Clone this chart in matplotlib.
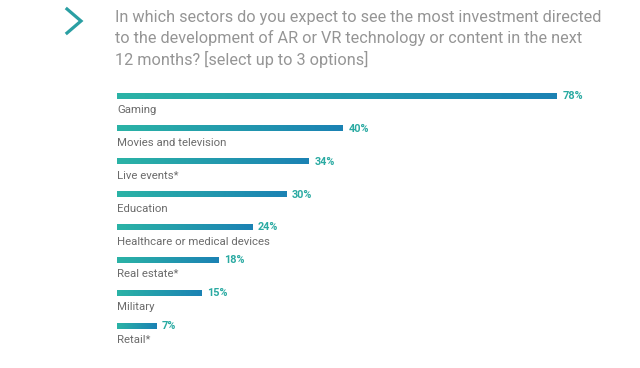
import numpy as np
import matplotlib
matplotlib.use("Agg")
from matplotlib import pyplot as plt
from matplotlib.colors import LinearSegmentedColormap
from matplotlib.lines import Line2D

sectors = ["Gaming", "Movies and television", "Live events*", "Education",
           "Healthcare or medical devices", "Real estate*", "Military", "Retail*"]
values = [78, 40, 34, 30, 24, 18, 15, 7]
title = ("In which sectors do you expect to see the most investment directed\n"
         "to the development of AR or VR technology or content in the next\n"
         "12 months? [select up to 3 options]")

teal = "#2aaaa2"
grad = LinearSegmentedColormap.from_list("g", ["#2bb3a6", "#1b82b4"])

W, H = 640, 368
fig = plt.figure(figsize=(W / 100, H / 100), dpi=100)
fig.patch.set_facecolor("white")

# axes: x from 117px, 5.64 px per percent; bars at 96px + 32.86px*i
px_per = 5.64
left = 117
top0, step = 96, 32.86
ax = fig.add_axes([left / W, (H - (top0 + 7.5 * step)) / H,
                   (W - left) / W, 8 * step / H])
ax.axis("off")

bh = 0.16
g = np.linspace(0, 1, 256).reshape(1, -1)
for i, (name, v) in enumerate(zip(sectors, values)):
    ax.imshow(g, cmap=grad, aspect="auto", interpolation="bilinear",
              extent=(0, v, i + bh / 2, i - bh / 2))
    ax.text(v + 1.0, i, f"{v}%", color=teal, fontsize=7.8, fontweight="bold",
            va="center", ha="left", family="Roboto")
    ax.text(0, i + 0.43, name, color="#6b6b6b", fontsize=8.2, va="center",
            ha="left", family="Roboto")
ax.set_xlim(0, (W - left) / px_per)
ax.set_ylim(7.5, -0.5)

fig.text(115 / W, 1 - 10 / H, title, color="#959595", fontsize=11.7,
         family="Roboto", va="top", ha="left", linespacing=1.38)

# chevron
fig.add_artist(Line2D([67 / W, 81 / W, 67 / W],
                      [1 - 9 / H, 1 - 21 / H, 1 - 33 / H],
                      color="#2a9fa3", lw=2.3, solid_joinstyle="miter"))

fig.savefig("out.png", dpi=100, facecolor="white")
